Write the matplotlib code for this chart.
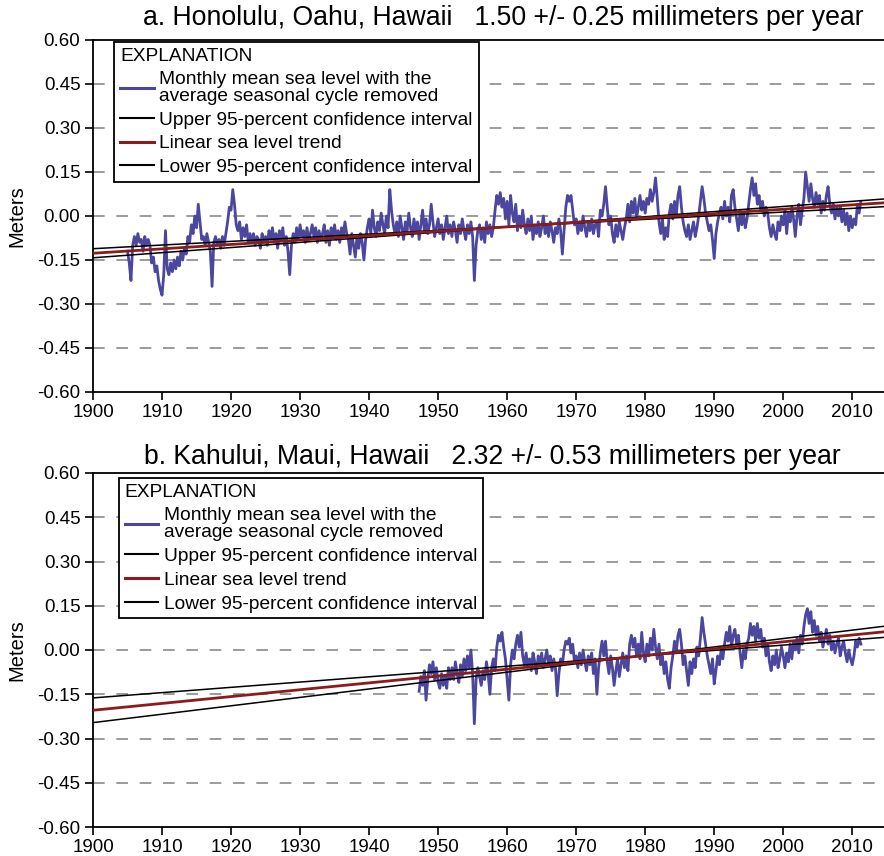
import numpy as np
import matplotlib
matplotlib.use("Agg")
import matplotlib.pyplot as plt
from matplotlib.lines import Line2D

plt.rcParams['font.family'] = ['Liberation Sans', 'DejaVu Sans']

# Honolulu, quarterly readings (m), first value at 1905.0
hon_start = 1905.0
hon_vals = [
    -0.12, -0.16, -0.22, -0.10,  # 1905
    -0.07, -0.10, -0.06, -0.09,
    -0.08, -0.12, -0.07, -0.10,
    -0.08, -0.10, -0.16, -0.14,
    -0.19, -0.17, -0.22, -0.25,
    -0.27, -0.20, -0.05, -0.18,  # 1910
    -0.20, -0.16, -0.19, -0.15,
    -0.18, -0.14, -0.17, -0.12,
    -0.15, -0.11, -0.13, -0.07,
    -0.09, -0.03, -0.06, 0.00,
    -0.04, 0.04, -0.02, -0.08,   # 1915
    -0.07, -0.10, -0.06, -0.09,
    -0.12, -0.24, -0.09, -0.07,
    -0.10, -0.08, -0.11, -0.07,
    -0.10, -0.06, -0.02, 0.03,
    0.02, 0.09, 0.04, -0.03,     # 1920
    -0.05, -0.02, -0.08, -0.04,
    -0.07, -0.03, -0.09, -0.06,
    -0.09, -0.06, -0.10, -0.07,
    -0.08, -0.11, -0.06, -0.09,
    -0.07, -0.10, -0.05, -0.08,  # 1925
    -0.04, -0.09, -0.06, -0.11,
    -0.05, -0.08, -0.04, -0.10,
    -0.07, -0.12, -0.20, -0.10,
    -0.06, -0.09, -0.04, -0.08,
    -0.03, -0.07, -0.05, -0.09,  # 1930
    -0.04, -0.08, -0.06, -0.03,
    -0.07, -0.04, -0.09, -0.05,
    -0.08, -0.06, -0.03, -0.09,
    -0.05, -0.10, -0.04, -0.07,
    -0.03, -0.08, -0.05, -0.09,  # 1935
    -0.04, -0.07, -0.02, -0.06,
    -0.08, -0.13, -0.06, -0.10,
    -0.14, -0.07, -0.11, -0.06,
    -0.09, -0.15, -0.08, -0.04,
    -0.01, -0.06, 0.02, -0.04,   # 1940
    -0.07, -0.02, -0.05, 0.01,
    -0.03, -0.06, 0.00, -0.04,
    0.09, 0.02, -0.03, -0.06,
    -0.02, -0.07, 0.00, -0.04,
    -0.08, -0.02, -0.05, 0.01,   # 1945
    -0.04, -0.07, -0.01, -0.05,
    -0.02, -0.08, -0.03, 0.02,
    -0.05, -0.01, -0.06, -0.03,
    0.04, -0.02, -0.07, -0.04,
    -0.01, -0.06, -0.03, -0.08,  # 1950
    -0.04, 0.00, -0.06, -0.03,
    -0.07, -0.02, -0.05, -0.09,
    -0.03, -0.06, -0.01, -0.05,
    -0.08, -0.03, -0.06, -0.02,
    -0.07, -0.22, -0.10, -0.05,  # 1955
    -0.03, -0.08, -0.04, -0.09,
    -0.02, -0.06, -0.03, -0.07,
    -0.04, 0.02, 0.07, 0.04,
    0.08, 0.03, 0.06, -0.01,
    0.05, -0.03, 0.07, 0.01,     # 1960
    -0.02, 0.04, -0.05, 0.00,
    -0.04, 0.02, -0.03, -0.06,
    -0.01, -0.05, 0.00, -0.08,
    -0.03, -0.06, -0.02, -0.07,
    -0.04, 0.00, -0.06, -0.03,   # 1965
    -0.07, -0.02, -0.05, -0.09,
    -0.04, -0.06, -0.01, -0.05,
    -0.13, -0.05, 0.03, 0.07,
    0.05, 0.07, 0.02, -0.03,
    -0.01, -0.06, -0.02, -0.05,  # 1970
    0.00, -0.04, -0.07, -0.02,
    -0.05, -0.01, -0.06, -0.03,
    -0.02, -0.07, 0.02, 0.00,
    0.04, 0.10, 0.03, -0.03,
    0.00, -0.06, -0.09, -0.03,   # 1975
    -0.07, -0.02, -0.05, -0.08,
    -0.04, -0.01, 0.04, -0.02,
    0.05, 0.01, 0.06, -0.01,
    0.03, 0.07, 0.02, 0.05,
    0.01, 0.06, 0.04, 0.09,      # 1980
    0.05, 0.08, 0.13, 0.06,
    -0.02, -0.06, -0.01, -0.08,
    -0.04, -0.07, 0.01, 0.04,
    -0.01, 0.05, 0.00, 0.07,
    0.10, 0.03, -0.02, -0.05,    # 1985
    -0.07, -0.03, -0.08, -0.05,
    -0.02, -0.07, -0.04, 0.00,
    0.05, 0.10, 0.06, 0.01,
    -0.02, -0.05, -0.03, -0.08,
    -0.145, -0.06, -0.02, 0.01,  # 1990
    0.03, -0.01, 0.05, 0.00,
    0.03, -0.02, 0.07, 0.09,
    0.03, -0.01, -0.05, 0.02,
    -0.03, 0.01, -0.04, -0.01,
    0.04, 0.09, 0.13, 0.07,      # 1995
    0.11, 0.04, 0.07, 0.02,
    0.05, 0.00, 0.03, 0.01,
    -0.04, -0.07, -0.03, -0.06,
    -0.08, -0.02, -0.05, 0.00,
    -0.03, 0.02, -0.06, 0.01,    # 2000
    -0.02, 0.03, -0.01, -0.07,
    0.00, 0.04, -0.03, 0.02,
    0.06, 0.15, 0.10, 0.05,
    0.11, 0.06, 0.03, 0.08,
    0.04, 0.07, 0.01, 0.05,      # 2005
    0.02, 0.07, 0.10, 0.04,
    0.01, 0.04, -0.01, 0.03,
    0.00, 0.03, -0.02, 0.02,
    -0.03, 0.01, -0.05, 0.00,
    -0.04, -0.01, -0.03, 0.04,   # 2010
    0.01, 0.05,
]

# Kahului, quarterly readings (m), first value at 1947.25
kah_start = 1947.25
kah_vals = [
    -0.14, -0.09, -0.12,         # 1947
    -0.07, -0.17, -0.10, -0.05,
    -0.08, -0.04, -0.10, -0.06,
    -0.11, -0.13, -0.08, -0.12,  # 1950
    -0.09, -0.13, -0.06, -0.10,
    -0.06, -0.10, -0.04, -0.08,
    -0.11, -0.05, -0.09, -0.03,
    -0.07, -0.02, -0.06, 0.00,
    -0.08, -0.25, -0.10, -0.06,  # 1955
    -0.09, -0.12, -0.07, -0.10,
    -0.04, -0.08, -0.15, -0.06,
    -0.03, -0.07, 0.01, 0.05,
    0.03, 0.06, 0.01, -0.03,
    -0.10, -0.17, -0.05, 0.00,   # 1960
    -0.03, 0.02, 0.05, 0.01,
    0.06, -0.02, -0.05, -0.01,
    -0.06, -0.03, -0.07, -0.01,
    -0.04, -0.08, -0.02, -0.05,
    -0.01, -0.06, -0.03, 0.00,   # 1965
    -0.05, -0.02, -0.07, -0.03,
    -0.06, -0.155, -0.08, -0.03,
    -0.05, 0.00, 0.03, 0.02,
    0.04, -0.01, 0.02, -0.04,
    -0.02, -0.06, -0.01, -0.05,  # 1970
    0.00, -0.04, -0.07, -0.02,
    -0.05, -0.01, -0.08, -0.03,
    -0.15, -0.06, -0.01, 0.03,
    -0.02, 0.03, -0.04, -0.08,
    -0.02, -0.06, -0.12, -0.07,  # 1975
    -0.03, -0.09, -0.05, -0.01,
    -0.06, -0.02, -0.07, 0.02,
    0.05, 0.01, 0.04, -0.02,
    0.02, -0.03, 0.06, -0.01,
    -0.04, 0.02, -0.02, 0.04,    # 1980
    0.00, 0.07, 0.01, -0.03,
    0.02, -0.05, -0.02, -0.08,
    -0.04, -0.10, -0.13, -0.06,
    -0.02, 0.03, -0.01, 0.05,
    0.07, 0.02, -0.05, -0.02,    # 1985
    -0.07, -0.12, -0.04, -0.08,
    -0.03, -0.06, 0.01, -0.02,
    0.04, 0.11, 0.06, 0.02,
    -0.02, -0.05, -0.08, -0.03,
    -0.115, -0.07, -0.02, -0.05, # 1990
    0.00, -0.03, 0.02, 0.06,
    0.03, 0.08, 0.01, 0.05,
    0.07, 0.02, 0.05, -0.01,
    -0.06, 0.00, -0.03, 0.02,
    0.04, 0.09, 0.05, 0.08,      # 1995
    0.03, 0.09, 0.04, 0.07,
    0.01, 0.04, -0.02, 0.02,
    -0.04, -0.07, -0.02, -0.05,
    0.00, -0.06, -0.03, 0.01,
    -0.02, -0.06, -0.01, -0.04,  # 2000
    0.02, -0.03, 0.03, 0.00,
    0.04, -0.01, 0.05, 0.02,
    0.08, 0.12, 0.14, 0.09,
    0.13, 0.06, 0.10, 0.05,
    0.08, 0.03, 0.06, 0.01,      # 2005
    0.04, 0.07, 0.02, 0.05,
    0.00, 0.03, -0.01, 0.02,
    0.04, -0.02, 0.01, 0.03,
    -0.01, -0.04, 0.00, -0.03,
    -0.05, -0.02, 0.03, 0.01,    # 2010
    0.04, 0.02,
]

# trend (mm/yr), 95% interval (mm/yr), and the point where the lines cross
hon_rate, hon_ci, hon_pivot = 1.50, 0.25, (1962.0, -0.034)
kah_rate, kah_ci, kah_pivot = 2.32, 0.53, (1979.0, -0.021)

titles = ["a. Honolulu, Oahu, Hawaii   1.50 +/- 0.25 millimeters per year",
          "b. Kahului, Maui, Hawaii   2.32 +/- 0.53 millimeters per year"]

yticks = [0.60, 0.45, 0.30, 0.15, 0.00, -0.15, -0.30, -0.45, -0.60]
xticks = list(range(1900, 2011, 10))

blue = '#4B479E'
red = '#8B1C1C'

W, H = 884, 856
fig = plt.figure(figsize=(W / 100, H / 100), dpi=100)


def draw_panel(rect, start, vals, rate, ci, pivot, title, title_xy, leg_xy):
    ax = fig.add_axes(rect)
    yrs = start + 0.25 * np.arange(len(vals))
    x0, x1 = 1900.0, 2014.6
    ax.set_xlim(x0, x1)
    ax.set_ylim(-0.60, 0.60)

    for yv in yticks[1:-1]:
        ax.axhline(yv, color='#8a8a8a', lw=1.2, dashes=(7, 7), zorder=1)

    ax.plot(yrs, vals, color=blue, lw=2.0, zorder=3)

    xx = np.array([x0, x1])
    py, pv = pivot
    ax.plot(xx, pv + (rate + ci) / 1000 * (xx - py), color='black', lw=1.1, zorder=4)
    ax.plot(xx, pv + (rate - ci) / 1000 * (xx - py), color='black', lw=1.1, zorder=4)
    ax.plot(xx, pv + rate / 1000 * (xx - py), color=red, lw=2.0, zorder=5)

    ax.spines['right'].set_visible(False)
    for s in ['left', 'bottom', 'top']:
        ax.spines[s].set_linewidth(1.3)
    ax.set_yticks(yticks)
    ax.set_yticklabels(['%.2f' % v for v in yticks])
    ax.set_xticks(xticks)
    ax.tick_params(direction='out', length=6, width=1.2, labelsize=13.5, pad=3)
    ax.set_ylabel('Meters', fontsize=14.5, labelpad=8)

    handles = [Line2D([], [], color=blue, lw=2.2),
               Line2D([], [], color='black', lw=1.5),
               Line2D([], [], color=red, lw=2.2),
               Line2D([], [], color='black', lw=1.5)]
    labels = ['Monthly mean sea level with the\naverage seasonal cycle removed',
              'Upper 95-percent confidence interval',
              'Linear sea level trend',
              'Lower 95-percent confidence interval']
    leg = ax.legend(handles, labels, title='EXPLANATION', alignment='left',
                    loc='upper left', bbox_to_anchor=leg_xy, fontsize=13.8,
                    title_fontsize=13.8, frameon=True, fancybox=False,
                    framealpha=1, edgecolor='black', handlelength=1.75,
                    handletextpad=0.3, labelspacing=0.33, borderpad=0.3,
                    borderaxespad=0)
    leg.get_frame().set_linewidth(1.3)
    for t in leg.get_texts():
        t.set_linespacing(1.0)
    leg.set_zorder(10)

    fig.text(title_xy[0], title_xy[1], title, fontsize=19.2, ha='center', va='center')
    return ax


draw_panel([93 / W, 1 - 392 / H, 1 - 93 / W, 352 / H], hon_start, hon_vals,
           hon_rate, hon_ci, hon_pivot, titles[0], (503 / W, 1 - 18 / H),
           (0.027, 0.995))
draw_panel([93 / W, 1 - 827 / H, 1 - 93 / W, 354 / H], kah_start, kah_vals,
           kah_rate, kah_ci, kah_pivot, titles[1], (492 / W, 1 - 457 / H),
           (0.033, 0.985))

fig.savefig('out.png', dpi=100)
